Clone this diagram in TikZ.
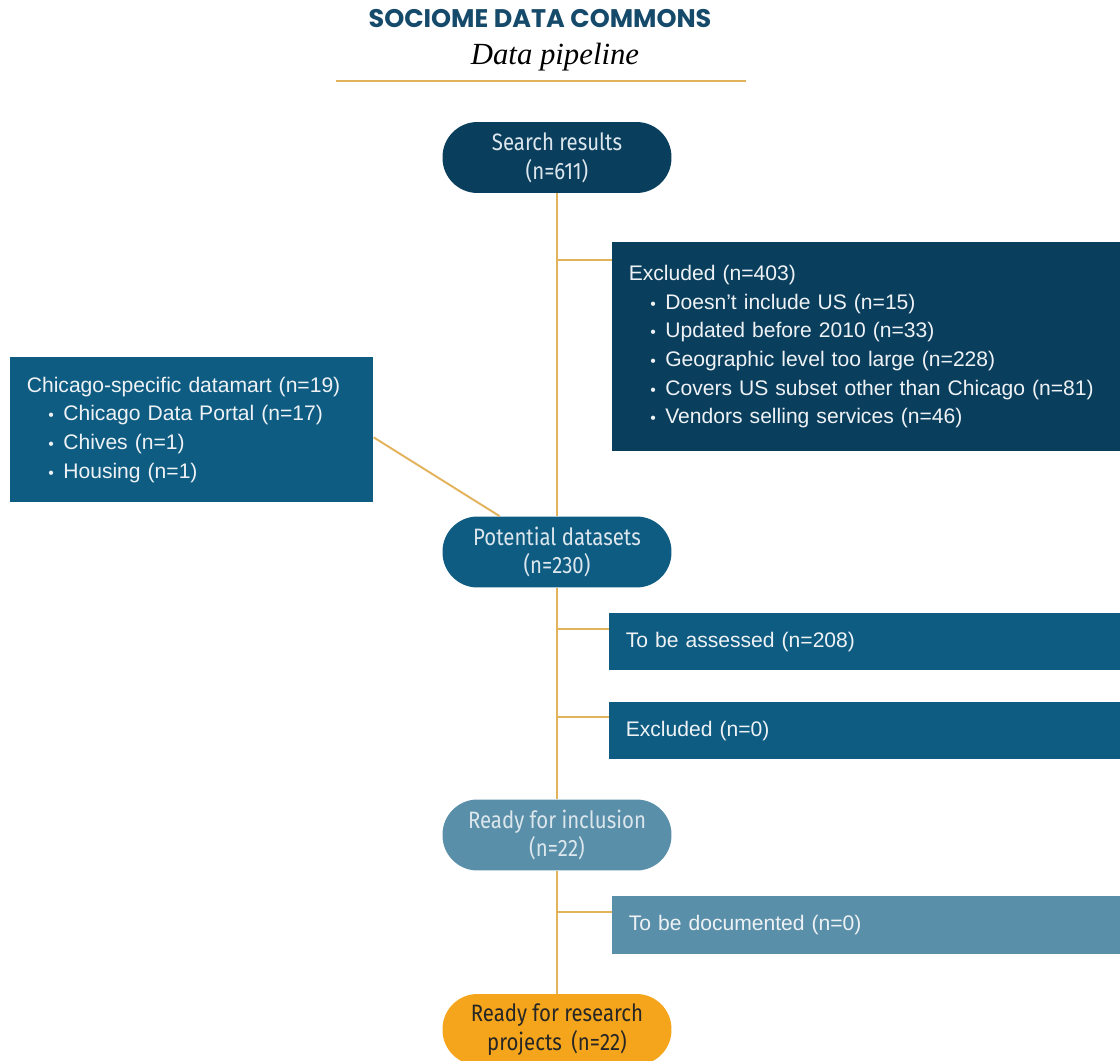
\documentclass[tikz,border=0pt]{standalone}
\usepackage{fontspec}
\setmainfont{Liberation Sans}
\newfontfamily\titlefont{Poppins}
\newfontfamily\pillfont{Fira Sans}[FakeStretch=0.86]
\newfontfamily\subfont{Liberation Serif}
\definecolor{sdnavy}{HTML}{0A3E5D}
\definecolor{sdblue}{HTML}{0E5C82}
\definecolor{sdslate}{HTML}{5A8FA9}
\definecolor{sdamber}{HTML}{F5A51B}
\definecolor{sdgold}{HTML}{E2B35B}
\definecolor{sdtitle}{HTML}{164A6B}
\definecolor{pilltext}{HTML}{DCE6ED}
\definecolor{paneltext}{HTML}{EEF2F5}
\newcommand\bul{\\\hspace*{0.43cm}\makebox[0.3cm][l]{\small\textbullet}}

\begin{document}
\begin{tikzpicture}[x=0.02cm, y=-0.02cm,
  link/.style={draw=sdgold, line width=1.1pt},
  pill/.style={rounded corners=0.7cm, minimum width=4.58cm, minimum height=1.42cm, align=center, inner sep=2pt, text=pilltext, font=\pillfont\fontsize{13.5}{16.4}\selectfont},
  panel/.style={anchor=north west, align=left, inner xsep=0.33cm, inner ysep=0pt, text=paneltext, font=\fontsize{12}{16.3}\selectfont}]
\useasboundingbox (0,0) rectangle (1120,1061);

\node[anchor=base, text=sdtitle, font=\titlefont\bfseries\fontsize{14.5}{17}\selectfont] (title) at (540,28) {SOCIOME DATA COMMONS};
\node[anchor=base, font=\subfont\itshape\fontsize{17.5}{20}\selectfont] (sub) at (555,65) {Data pipeline};
\draw[sdgold, line width=1pt] (336,81) -- (746,81);

\node[pill, fill=sdnavy] (search) at (557,157.5) {Search results\\(n=611)};
\node[pill, fill=sdblue] (potential) at (557,552) {Potential datasets\\(n=230)};
\node[pill, fill=sdslate] (inclusion) at (557,835) {Ready for inclusion\\(n=22)};
\node[pill, fill=sdamber, text=black!85] (research) at (557,1029.5) {Ready for research\\projects\, (n=22)};

\node[panel, fill=sdnavy, text width=9.5cm, minimum height=4.18cm] (excl) at (612,242)
  {Excluded (n=403)\bul Doesn’t include US (n=15)\bul Updated before 2010 (n=33)\bul Geographic level too large (n=228)\bul Covers US subset other than Chicago (n=81)\bul Vendors selling services (n=46)};
\node[panel, fill=sdblue, text width=6.6cm, minimum height=2.9cm] (chicago) at (10,357)
  {Chicago-specific datamart (n=19)\bul Chicago Data Portal (n=17)\bul Chives (n=1)\bul Housing (n=1)};
\node[panel, fill=sdblue, text width=9.56cm, minimum height=1.14cm] (assess) at (609,613) {To be assessed (n=208)};
\node[panel, fill=sdblue, text width=9.56cm, minimum height=1.14cm] (excl0) at (609,702) {Excluded (n=0)};
\node[panel, fill=sdslate, text width=9.5cm, minimum height=1.16cm] (doc) at (612,896) {To be documented (n=0)};

\draw[link] (search) -- (potential);
\draw[link] (potential) -- (inclusion);
\draw[link] (inclusion) -- (research);
\draw[link] ([yshift=-0.15cm]chicago.east) -- (potential.148);

\coordinate (j1) at (557,260);
\coordinate (j2) at (557,629);
\coordinate (j3) at (557,717);
\coordinate (j4) at (557,912);
\draw[link] (j1) -- (j1 -| excl.west);
\draw[link] (j2) -- (j2 -| assess.west);
\draw[link] (j3) -- (j3 -| excl0.west);
\draw[link] (j4) -- (j4 -| doc.west);
\end{tikzpicture}
\end{document}
